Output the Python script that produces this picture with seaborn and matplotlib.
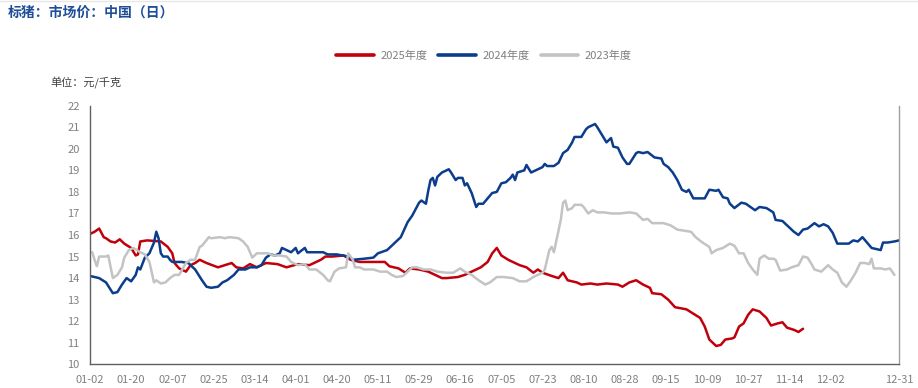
import matplotlib
matplotlib.use('Agg')
import matplotlib.pyplot as plt
import seaborn as sns
import pandas as pd
from matplotlib.lines import Line2D

# ---- data (x = category index on the MM-DD axis) ----
tick_labels = ['01-02', '01-20', '02-07', '02-25', '03-14', '04-01', '04-20',
               '05-11', '05-29', '06-16', '07-05', '07-23', '08-10', '08-28',
               '09-15', '10-09', '10-27', '11-14', '12-02', '', '12-31']

series_names = ['2025年度', '2024年度', '2023年度']

red_idx = [0,2,4,6,7,9,11,13,15,18,20,21,22,25,31,34,36,37,39,42,44,46,48,51,56,59,62,64,67,70,
           73,77,82,86,91,96,101,103,106,111,114,118,124,129,131,135,138,140,144,148,151,154,156,161,
           164,167,171,174,176,178,180,183,185,188,191,194,196,198,202,205,207,209,213,215,219,222,226,
           231,233,236,239,242,245,246,250,253,256,261,264,267,269,271,274,276,278,281,282,284,286,288,
           290,293,296,298,301,303,305,308,310,312]
red_val = [16.05,16.15,16.3,15.9,15.85,15.7,15.65,15.8,15.6,15.4,15.05,15.1,15.7,15.75,15.7,15.45,15.15,
           14.7,14.45,14.3,14.6,14.7,14.85,14.7,14.5,14.6,14.7,14.5,14.45,14.65,14.5,14.7,14.65,14.5,14.65,
           14.6,14.85,15.0,15.0,15.05,14.85,14.75,14.75,14.75,14.55,14.45,14.25,14.45,14.4,14.3,14.15,14.0,
           14.0,14.05,14.15,14.3,14.5,14.75,15.15,15.4,15.05,14.85,14.75,14.6,14.5,14.25,14.4,14.25,14.1,
           14.0,14.25,13.9,13.8,13.7,13.75,13.7,13.75,13.7,13.6,13.8,13.9,13.7,13.55,13.3,13.25,13.0,12.65,
           12.55,12.35,12.15,11.75,11.15,10.85,10.9,11.15,11.2,11.25,11.75,11.9,12.3,12.55,12.45,12.15,11.8,
           11.9,11.95,11.7,11.6,11.5,11.65]

blue_idx = [0,4,7,10,12,14,16,18,20,21,22,24,26,28,29,30,31,32,34,35,36,40,43,46,49,51,53,56,58,60,
            63,65,68,70,73,75,77,79,81,83,84,86,88,90,91,94,95,98,102,104,108,113,115,120,124,126,130,
            133,136,139,141,144,145,147,148,149,150,151,152,154,157,158,160,161,163,164,165,167,169,170,
            172,174,176,178,180,182,184,185,186,187,190,191,193,195,198,199,200,203,205,207,209,211,212,
            215,217,218,221,222,224,226,228,229,231,233,235,236,239,240,242,244,247,250,251,253,255,257,
            259,261,262,264,269,271,274,275,277,279,280,282,285,287,289,291,293,296,299,300,303,306,308,
            310,312,314,317,319,321,323,325,327,332,334,336,338,340,342,346,347,349,352,354]
blue_val = [14.1,14.0,13.8,13.3,13.35,13.7,14.0,13.85,14.15,14.5,14.4,14.95,15.15,15.65,16.15,15.85,
            15.15,15.0,15.0,14.85,14.75,14.75,14.7,14.4,13.9,13.6,13.55,13.6,13.8,13.9,14.15,14.4,14.4,
            14.5,14.5,14.6,14.95,15.1,15.05,15.15,15.4,15.3,15.2,15.4,15.15,15.4,15.2,15.2,15.2,15.1,15.1,
            15.0,14.85,14.9,14.95,15.15,15.3,15.6,15.9,16.6,16.9,17.5,17.6,17.45,18.05,18.55,18.65,18.3,
            18.7,18.9,19.05,18.9,18.55,18.65,18.65,18.3,18.4,17.95,17.3,17.45,17.45,17.7,17.95,18.0,18.4,
            18.45,18.65,18.8,18.55,18.9,19.0,19.25,18.9,19.0,19.15,19.3,19.2,19.2,19.35,19.8,19.95,20.3,
            20.55,20.55,20.9,21.0,21.15,21.0,20.65,20.3,20.5,20.1,20.05,19.6,19.3,19.3,19.8,19.85,19.8,
            19.85,19.6,19.55,19.3,19.15,18.9,18.55,18.1,18.0,18.1,17.7,17.7,18.1,18.05,18.1,17.75,17.7,
            17.45,17.25,17.5,17.45,17.3,17.15,17.3,17.25,17.05,16.7,16.65,16.35,16.15,16.0,16.25,16.3,
            16.55,16.4,16.5,16.4,16.1,15.6,15.6,15.75,15.7,15.9,15.65,15.4,15.3,15.65,15.65,15.7,15.75]

gray_idx = [1,2,3,4,7,8,10,12,14,15,17,19,22,24,26,28,29,31,33,35,37,39,42,44,46,48,49,52,53,57,
            59,61,65,67,69,71,73,76,78,80,83,86,88,91,94,96,99,102,104,105,107,109,112,113,115,116,118,
            120,124,127,130,132,134,137,139,141,143,146,149,152,156,159,162,164,167,170,173,175,178,181,
            185,188,191,194,198,199,201,202,203,204,206,207,208,209,211,212,215,216,218,220,222,225,228,
            232,236,239,242,244,246,251,254,257,263,265,268,271,272,274,277,280,282,284,286,288,290,292,
            293,295,297,299,300,302,305,307,310,312,314,316,317,320,323,325,327,329,331,333,335,337,339,
            341,342,343,346,348,350,352]
gray_val = [15.2,14.85,14.55,15.0,15.0,15.05,14.0,14.15,14.5,14.95,15.3,15.4,15.2,15.1,14.75,13.8,13.9,
            13.75,13.8,14.0,14.15,14.15,14.7,14.85,14.85,15.45,15.5,15.9,15.85,15.9,15.85,15.9,15.85,15.7,
            15.45,14.95,15.15,15.15,15.15,15.05,15.05,15.0,14.75,14.6,14.65,14.4,14.4,14.15,13.9,13.85,
            14.3,14.45,14.5,15.15,14.85,14.5,14.5,14.4,14.4,14.3,14.3,14.15,14.05,14.1,14.3,14.5,14.5,14.4,
            14.4,14.3,14.25,14.25,14.45,14.3,14.15,13.9,13.7,13.8,14.05,14.05,14.0,13.85,13.85,14.05,14.25,
            14.4,15.3,15.45,15.2,15.7,16.7,17.5,17.6,17.15,17.25,17.4,17.4,17.3,17.0,17.15,17.05,17.05,17.0,
            17.0,17.05,17.0,16.7,16.75,16.55,16.55,16.45,16.25,16.15,15.9,15.65,15.45,15.15,15.3,15.4,15.6,
            15.5,15.15,15.15,14.7,14.4,14.15,14.9,15.05,14.9,14.9,14.85,14.35,14.4,14.5,14.6,15.0,14.95,
            14.6,14.4,14.3,14.6,14.4,14.25,13.8,13.6,13.9,14.25,14.7,14.7,14.65,14.9,14.45,14.45,14.4,14.45,
            14.15]

colors = {'2025年度': '#C0000B', '2024年度': '#0B3D8C', '2023年度': '#C3C3C3'}

df = pd.concat([
    pd.DataFrame({'idx': red_idx, 'price': red_val, 'year': '2025年度'}),
    pd.DataFrame({'idx': blue_idx, 'price': blue_val, 'year': '2024年度'}),
    pd.DataFrame({'idx': gray_idx, 'price': gray_val, 'year': '2023年度'}),
], ignore_index=True)

sns.set_theme(style='white')
plt.rcParams['font.family'] = ['Noto Sans CJK SC', 'DejaVu Sans']

W, H = 918, 388
fig = plt.figure(figsize=(W / 100, H / 100), dpi=100)
fig.patch.set_facecolor('white')
x0, x1, ytop, ybot = 90, 899, 105.7, 364.3
ax = fig.add_axes([x0 / W, 1 - ybot / H, (x1 - x0) / W, (ybot - ytop) / H])

for name in series_names:
    sub = df[df['year'] == name]
    sns.lineplot(data=sub, x='idx', y='price', ax=ax, color=colors[name],
                 linewidth=1.8, estimator=None, sort=True, legend=False)

n_last = 354
tick_pos = [18 * k for k in range(len(tick_labels) - 1)] + [n_last]
ax.set_xlim(0, n_last)
ax.set_ylim(10, 22)
ax.set_xticks(tick_pos)
ax.set_xticklabels(tick_labels)
ax.set_yticks(range(10, 23))
ax.set_xlabel('')
ax.set_ylabel('')
ax.grid(False)
ax.set_facecolor('white')

for s in ['top']:
    ax.spines[s].set_visible(False)
for s in ['left', 'bottom']:
    ax.spines[s].set_color('#606060')
    ax.spines[s].set_linewidth(1.0)
ax.spines['right'].set_color('#A0A0A0')
ax.spines['right'].set_linewidth(1.0)

ax.tick_params(axis='both', which='major', direction='out', length=4.5, width=1,
               color='#404040', labelcolor='#808080', labelsize=8)
ax.tick_params(axis='y', pad=3)
ax.tick_params(axis='x', pad=3)
ax.tick_params(axis='x', which='both', top=False)
ax.tick_params(axis='y', which='both', right=False)

fig.text(8 / W, 1 - 13 / H, '标猪：市场价：中国（日）', ha='left', va='center',
         fontsize=10, fontweight='bold', color='#1F4E99')
fig.text(50 / W, 1 - 83 / H, '单位：元/千克', ha='left', va='center',
         fontsize=8, color='#404040')

handles = [Line2D([0], [0], color=colors[n], lw=2.6) for n in series_names]
fig.legend(handles, series_names, loc='center', bbox_to_anchor=(484 / W, 1 - 56 / H),
           ncol=3, frameon=False, fontsize=8, handlelength=3.4, handletextpad=0.55,
           columnspacing=1.0, labelcolor='#808080')

fig.add_artist(Line2D([0, 1], [1 - 0.5 / H, 1 - 0.5 / H], color='#E6E6E6', lw=1))

fig.savefig('out.png', dpi=100, facecolor='white')
